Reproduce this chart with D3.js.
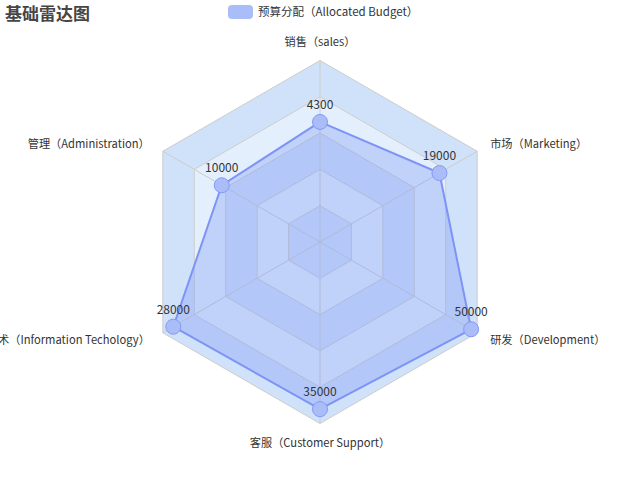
<!DOCTYPE html>
<html><head><meta charset="utf-8">
<script src="https://cdn.jsdelivr.net/npm/d3@7"></script>
<style>
html,body{margin:0;padding:0;background:#fff;}
svg{display:block;font-family:"Noto Sans CJK SC","Noto Sans",sans-serif;}
</style></head>
<body>
<svg id="chart" width="640" height="484"></svg>
<script>
const title = "基础雷达图";
const seriesName = "预算分配（Allocated Budget）";
const indicatorNames = ["销售（sales）","管理（Administration）","信息技术（Information Techology）","客服（Customer Support）","研发（Development）","市场（Marketing）"];
const indicatorMax = [6500, 16000, 30000, 38000, 52000, 25000];
const budgetValues = [4300, 10000, 28000, 35000, 50000, 19000];
const splitLevels = [0.2, 0.4, 0.6, 0.8, 1.0];

const svg = d3.select("#chart");
const W = 640, H = 484;
const cx = W/2, cy = H/2, R = Math.min(W,H)/2*0.75;
const n = indicatorNames.length;

const angleScale = d3.scaleLinear().domain([0, n]).range([Math.PI/2, Math.PI/2 + 2*Math.PI]);
const valueScales = indicatorMax.map(m => d3.scaleLinear().domain([0, m]).range([0, R]));
const levelScale = d3.scaleLinear().domain([0, 1]).range([0, R]);

function pt(i, r){ const a = angleScale(i); return [cx + r*Math.cos(a), cy - r*Math.sin(a)]; }
function ring(r){ return d3.range(n).map(i => pt(i, r)); }
const lineGen = d3.line().curve(d3.curveLinearClosed);

// split areas
const areaColors = ["#d0e2f9", "#e4effd"];
const g = svg.append("g");
for (let k = splitLevels.length - 1; k >= 0; k--) {
  const outer = ring(levelScale(splitLevels[k]));
  const inner = k > 0 ? ring(levelScale(splitLevels[k-1])) : null;
  let d = lineGen(outer);
  if (inner) d += lineGen(inner.slice().reverse());
  g.append("path").attr("d", d).attr("fill", areaColors[k % 2 === 0 ? 0 : 1]).attr("fill-rule","evenodd");
}
// split lines
splitLevels.forEach(l => {
  g.append("path").attr("d", lineGen(ring(levelScale(l))))
    .attr("fill","none").attr("stroke","#cccccc").attr("stroke-width",1);
});
// axis lines
d3.range(n).forEach(i => {
  const p = pt(i, R);
  g.append("line").attr("x1",cx).attr("y1",cy).attr("x2",p[0]).attr("y2",p[1])
    .attr("stroke","#cccccc").attr("stroke-width",1);
});

// indicator names
d3.range(n).forEach(i => {
  const p = pt(i, R + 15);
  const a = angleScale(i);
  const c = Math.cos(a), s = Math.sin(a);
  let anchor = Math.abs(c) < 0.01 ? "middle" : (c > 0 ? "start" : "end");
  let dy = "0.35em";
  if (Math.abs(c) < 0.01) dy = s > 0 ? "0em" : "0.75em";
  svg.append("text").attr("x", p[0]).attr("y", p[1]).attr("dy", dy)
    .attr("text-anchor", anchor).attr("font-size", 11.2).attr("fill", "#333")
    .text(indicatorNames[i]);
});

// data polygon
const dataPts = budgetValues.map((v, i) => pt(i, valueScales[i](v)));
svg.append("path").attr("d", lineGen(dataPts))
  .attr("fill", "rgba(118,146,247,0.32)").attr("stroke", "#7e93f6").attr("stroke-width", 2)
  .attr("stroke-linejoin","round");
svg.selectAll("circle.pt").data(dataPts).enter().append("circle").attr("class","pt")
  .attr("cx", d => d[0]).attr("cy", d => d[1]).attr("r", 7.5)
  .attr("fill", "#aabdf9").attr("stroke", "#8499f5").attr("stroke-width", 1);
svg.selectAll("text.val").data(budgetValues).enter().append("text").attr("class","val")
  .attr("x", (d,i) => dataPts[i][0]).attr("y", (d,i) => dataPts[i][1] - 13)
  .attr("text-anchor","middle").attr("font-size", 12).attr("fill", "#333")
  .text(d => d);

// title
svg.append("text").attr("x", 5).attr("y", 20).attr("font-size", 17).attr("font-weight","bold")
  .attr("fill","#464646").text(title);

// legend
svg.append("rect").attr("x", 228).attr("y", 5).attr("width", 25).attr("height", 14).attr("rx", 4)
  .attr("fill", "#a9bdf8");
svg.append("text").attr("x", 258).attr("y", 12).attr("dy","0.35em").attr("font-size", 11.5)
  .attr("fill", "#333").text(seriesName);
</script>
</body></html>
